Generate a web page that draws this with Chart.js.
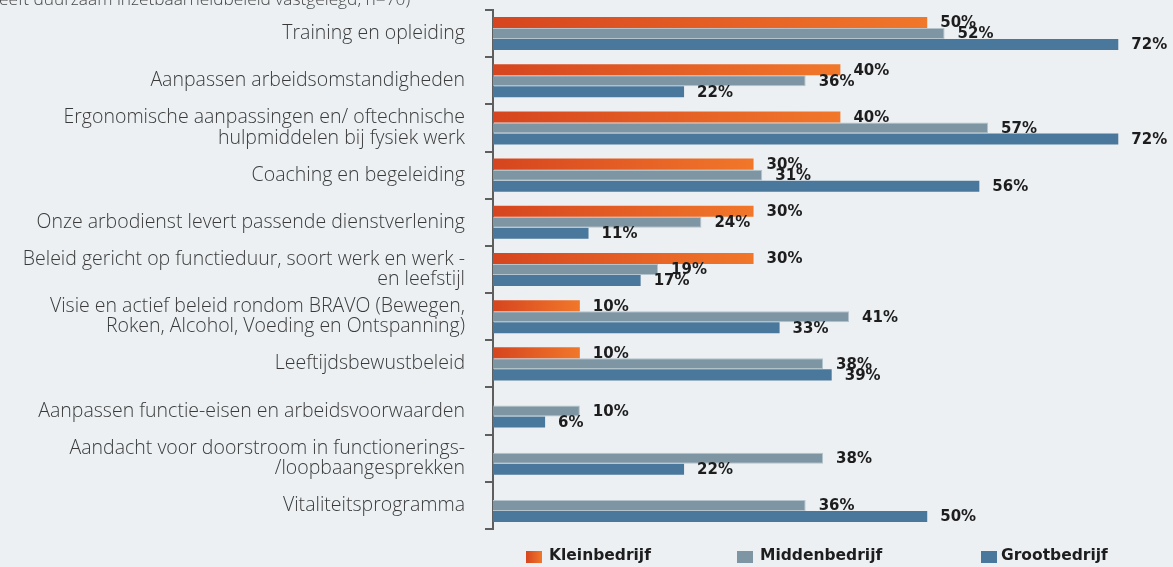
<!DOCTYPE html>
<html>
<head>
<meta charset="utf-8">
<script src="https://cdn.jsdelivr.net/npm/chart.js@4/dist/chart.umd.min.js"></script>
<style>
  html, body { margin: 0; padding: 0; background: #ecf0f3; }
  #wrap { width: 1173px; height: 567px; position: relative; }
</style>
</head>
<body>
<div id="wrap"><canvas id="chart"></canvas></div>
<script>
const categories = [
  'Training en opleiding',
  'Aanpassen arbeidsomstandigheden',
  ['Ergonomische aanpassingen en/ oftechnische', 'hulpmiddelen bij fysiek werk'],
  'Coaching en begeleiding',
  'Onze arbodienst levert passende dienstverlening',
  ['Beleid gericht op functieduur, soort werk en werk -', 'en leefstijl'],
  ['Visie en actief beleid rondom BRAVO (Bewegen,', 'Roken, Alcohol, Voeding en Ontspanning)'],
  'Leeftijdsbewustbeleid',
  'Aanpassen functie-eisen en arbeidsvoorwaarden',
  ['Aandacht voor doorstroom in functionerings-', '/loopbaangesprekken'],
  'Vitaliteitsprogramma'
];
const seriesNames = ['Kleinbedrijf', 'Middenbedrijf', 'Grootbedrijf'];
const kleinbedrijf  = [50, 40, 40, 30, 30, 30, 10, 10, null, null, null];
const middenbedrijf = [52, 36, 57, 31, 24, 19, 41, 38, 10, 38, 36];
const grootbedrijf  = [72, 22, 72, 56, 11, 17, 33, 39, 6, 22, 50];
const topNote = 'eeft duurzaam inzetbaarheidbeleid vastgelegd, n=70)';

const ORANGE_DARK = '#d6451f';
const ORANGE_LIGHT = '#f1772a';
const GREY = '#7e96a3';
const BLUE = '#4a789c';
const BOLD_FONT = '"DejaVu Sans"';
// legend swatch x and text x for each series
const LEGEND_BOX_X = [526, 737, 981];
const LEGEND_TEXT_X = [549, 760, 1001];

// orange bars fade from dark red-orange at the axis to bright orange at the tip
function orangeFill(c) {
  const chart = c.chart;
  if (!chart.chartArea || c.type !== 'data' || c.raw == null) return ORANGE_LIGHT;
  const x0 = chart.scales.x.getPixelForValue(0);
  const x1 = chart.scales.x.getPixelForValue(c.raw);
  const g = chart.ctx.createLinearGradient(x0, 0, x1, 0);
  g.addColorStop(0, ORANGE_DARK);
  g.addColorStop(1, ORANGE_LIGHT);
  return g;
}

const valueLabels = {
  id: 'valueLabels',
  afterDatasetsDraw(chart) {
    const ctx = chart.ctx;
    ctx.save();
    ctx.font = '700 15px ' + BOLD_FONT;
    ctx.fillStyle = '#1d1d1d';
    ctx.textBaseline = 'middle';
    chart.data.datasets.forEach((ds, i) => {
      chart.getDatasetMeta(i).data.forEach((bar, j) => {
        const v = ds.data[j];
        if (v == null) return;
        ctx.fillText(v + '%', bar.x + 13, bar.y + 1);
      });
    });
    ctx.restore();
  }
};

const extras = {
  id: 'extras',
  beforeDraw(chart) {
    const ctx = chart.ctx;
    ctx.save();
    ctx.font = '300 17.3px "Open Sans"';
    ctx.fillStyle = '#454545';
    ctx.textBaseline = 'alphabetic';
    ctx.fillText(topNote, -1, 5);
    ctx.restore();
  },
  afterDraw(chart) {
    const ctx = chart.ctx;
    const y = 557;
    ctx.save();
    ctx.font = '700 15.5px ' + BOLD_FONT;
    ctx.textBaseline = 'middle';
    seriesNames.forEach((name, i) => {
      const x = LEGEND_BOX_X[i];
      if (i === 0) {
        const g = ctx.createLinearGradient(x, 0, x + 16, 0);
        g.addColorStop(0, ORANGE_DARK);
        g.addColorStop(1, ORANGE_LIGHT);
        ctx.fillStyle = g;
      } else {
        ctx.fillStyle = i === 1 ? GREY : BLUE;
      }
      ctx.fillRect(x, y - 6, 16, 12);
      ctx.fillStyle = '#1d1d1d';
      ctx.fillText(name, LEGEND_TEXT_X[i], y - 1);
    });
    ctx.restore();
  }
};

new Chart(document.getElementById('chart'), {
  type: 'bar',
  data: {
    labels: categories,
    datasets: [
      { label: seriesNames[0], data: kleinbedrijf, backgroundColor: orangeFill },
      { label: seriesNames[1], data: middenbedrijf, backgroundColor: GREY,
        borderColor: '#b4c3cc', borderWidth: 1 },
      { label: seriesNames[2], data: grootbedrijf, backgroundColor: BLUE }
    ]
  },
  options: {
    indexAxis: 'y',
    responsive: true,
    maintainAspectRatio: false,
    animation: false,
    categoryPercentage: 0.7,
    barPercentage: 1.0,
    layout: { padding: { top: 10, bottom: 38, left: 0, right: 0 } },
    plugins: {
      legend: { display: false },
      tooltip: { enabled: false }
    },
    scales: {
      x: { display: false, min: 0, max: 78.3 },
      y: {
        afterFit(s) {
          s.width = 493;
          s.paddingTop = 0;
          s.paddingBottom = 0;
        },
        grid: { offset: true, drawOnChartArea: false, tickLength: 8, color: '#5e5e5e', lineWidth: 2 },
        border: { color: '#5e5e5e', width: 2 },
        ticks: {
          padding: 20,
          color: '#3a3a3a',
          font: { family: '"Open Sans"', size: 19.5, weight: 300, lineHeight: 1.05 }
        }
      }
    }
  },
  plugins: [valueLabels, extras]
});
</script>
</body>
</html>
